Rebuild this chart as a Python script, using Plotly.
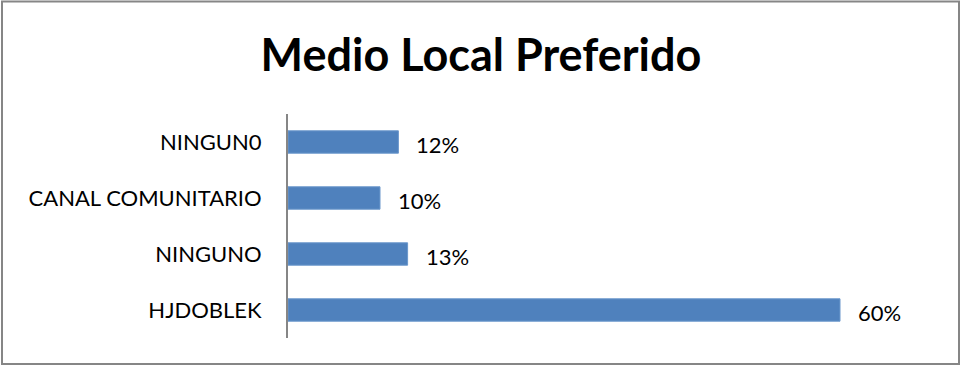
import plotly.graph_objects as go

categories = ["HJDOBLEK", "NINGUNO", "CANAL COMUNITARIO", "NINGUN0"]
values = [0.60, 0.13, 0.10, 0.12]
labels = ["60%", "13%", "10%", "12%"]

fig = go.Figure()
fig.add_trace(go.Bar(
    x=values, y=categories, orientation="h",
    marker=dict(color="#4F81BD", line=dict(color="#6C98CC", width=1)),
    width=0.4, hoverinfo="skip",
))
for c, v, t in zip(categories, values, labels):
    fig.add_annotation(x=v, y=c, text=t, showarrow=False, xanchor="left",
                       xshift=16, yshift=-2, font=dict(size=22, color="#000000", family="Lato"))

fig.update_layout(
    width=962, height=367,
    paper_bgcolor="white", plot_bgcolor="white",
    margin=dict(l=288, r=30, t=114, b=29),
    showlegend=False,
    title=dict(text="<b>Medio Local Preferido</b>", x=0.5, xanchor="center",
               y=1 - 55/367, yanchor="middle",
               font=dict(size=45, family="Lato", color="#000000")),
    xaxis=dict(range=[0, 0.7], showgrid=False, zeroline=False, showticklabels=False,
               showline=False, fixedrange=True),
    yaxis=dict(categoryorder="array", categoryarray=categories, showgrid=False,
               showline=True, linecolor="#868686", linewidth=2, ticks="",
               ticklabelstandoff=20,
               tickfont=dict(size=22, family="Lato", color="#000000"), fixedrange=True),
)
fig.add_shape(type="rect", xref="paper", yref="paper",
              x0=-286/644, x1=(962-288-3)/644, y0=-(29-3)/223, y1=1+(114-2)/223,
              line=dict(color="#868686", width=2))
fig.write_html("out.html")
